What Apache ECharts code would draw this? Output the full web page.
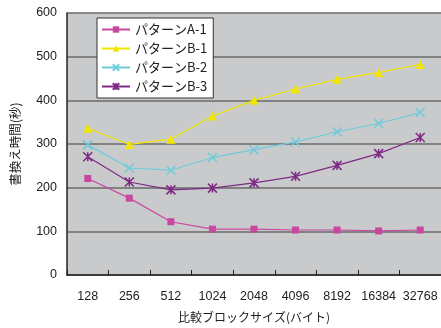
<!DOCTYPE html>
<html><head><meta charset="utf-8">
<script src="https://cdn.jsdelivr.net/npm/echarts@6/dist/echarts.min.js"></script>
<style>html,body{margin:0;padding:0;background:#fff}#c{width:441px;height:328px}</style>
</head><body><div id="c"></div>
<script>
const categories = ['128','256','512','1024','2048','4096','8192','16384','32768'];
const seriesNames = ['パターンA-1','パターンB-1','パターンB-2','パターンB-3'];
const a1 = [221, 176, 122, 105, 105, 103, 103, 101, 103];
const b1 = [336, 299, 311, 364, 400, 426, 448, 464, 482];
const b2 = [298, 245, 240, 269, 287, 305, 328, 347, 372];
const b3 = [271, 213, 195, 199, 211, 226, 251, 278, 315];
const yTicks = [0, 100, 200, 300, 400, 500, 600];

const colors = ['#C9489F', '#F2E600', '#6CCCDC', '#7E2A84'];
const symbols = ['rect', 'triangle', 'path://M0,0L10,10M10,0L0,10', 'path://M0,0L10,10M10,0L0,10M5,0L5,10'];
const sizes = [7, 9, 9, 9];
const datas = [a1, b1, b2, b3];

const chart = echarts.init(document.getElementById('c'));
chart.setOption({
  animation: false,
  textStyle: { fontFamily: 'Noto Sans CJK JP, sans-serif' },
  grid: { left: 67, right: -2, top: 13, bottom: 49, show: true, backgroundColor: '#C9CACC', borderWidth: 0 },
  legend: {
    orient: 'vertical', left: 97, top: 18, itemGap: 6, itemWidth: 28, itemHeight: 8,
    backgroundColor: '#fff', borderColor: '#333', borderWidth: 1, padding: [5, 6, 5, 4],
    textStyle: { fontSize: 13, lineHeight: 13, color: '#222', fontFamily: 'Noto Sans CJK JP, sans-serif' },
    data: seriesNames
  },
  xAxis: {
    type: 'category', data: categories, boundaryGap: true,
    name: '比較ブロックサイズ(バイト)', nameLocation: 'middle', nameGap: 36,
    nameTextStyle: { fontSize: 12, color: '#222' },
    axisLine: { lineStyle: { color: '#222', width: 1.5 } },
    axisTick: { show: true, inside: true, length: 5, lineStyle: { color: '#222' } },
    axisLabel: { interval: 0, fontSize: 12.5, color: '#222', margin: 15, fontFamily: 'Liberation Sans, Arial, sans-serif' }
  },
  yAxis: {
    type: 'value', min: yTicks[0], max: yTicks[yTicks.length - 1], interval: 100,
    name: '書換え時間(秒)', nameLocation: 'middle', nameGap: 45, nameRotate: 90,
    nameTextStyle: { fontSize: 12.5, color: '#222' },
    axisLine: { show: true, lineStyle: { color: '#222', width: 1.5 } },
    axisTick: { show: false },
    axisLabel: { fontSize: 12.5, color: '#222', margin: 10, fontFamily: 'Liberation Sans, Arial, sans-serif' },
    splitLine: { show: true, lineStyle: { color: '#6a6a6a', width: 1.5 } }
  },
  series: datas.map((d, i) => ({
    name: seriesNames[i], type: 'line', data: d,
    symbol: symbols[i], symbolSize: sizes[i], showAllSymbol: true,
    lineStyle: { color: colors[i], width: 1.2 },
    itemStyle: { color: colors[i], borderColor: colors[i], borderWidth: i >= 2 ? 1.5 : 0 }
  }))
});
</script></body></html>
